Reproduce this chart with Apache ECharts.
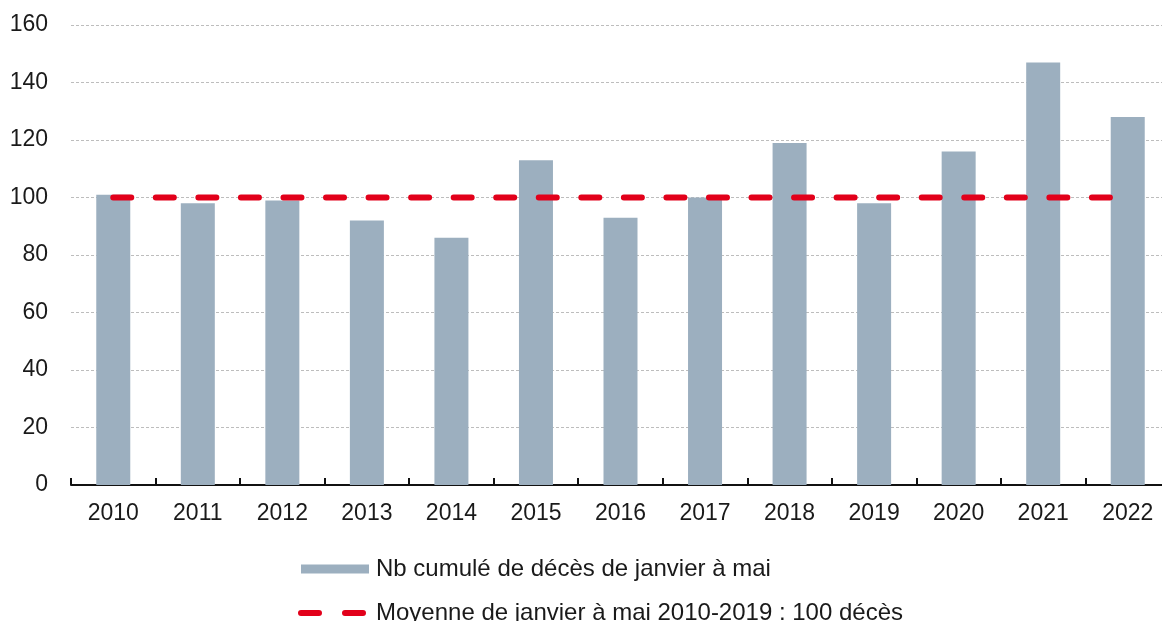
<!DOCTYPE html>
<html>
<head>
<meta charset="utf-8">
<style>
  html, body { margin: 0; padding: 0; background: #fff; }
  #chart { width: 1162px; height: 621px; }
</style>
<script src="https://cdn.jsdelivr.net/npm/echarts@6/dist/echarts.min.js"></script>
</head>
<body>
<div id="chart"></div>
<script>
const years = ["2010", "2011", "2012", "2013", "2014", "2015", "2016", "2017", "2018", "2019", "2020", "2021", "2022"];
const deaths = [101, 98, 99, 92, 86, 113, 93, 100, 119, 98, 116, 147, 128];
const average = [100, 100, 100, 100, 100, 100, 100, 100, 100, 100, 100, 100, 100];
const barName = "Nb cumulé de décès de janvier à mai";
const lineName = "Moyenne de janvier à mai 2010-2019 : 100 décès";

const font = "'Liberation Sans', Arial, Helvetica, sans-serif";
const textColor = "#1a1a1a";
// two rounded dashes for the legend of the average line
const dashIcon = "path://M3,0 H21 A3,3 0 0 1 21,6 H3 A3,3 0 0 1 3,0 Z M47,0 H65 A3,3 0 0 1 65,6 H47 A3,3 0 0 1 47,0 Z";

const chart = echarts.init(document.getElementById("chart"));
chart.setOption({
    animation: false,
    textStyle: { fontFamily: font },
    grid: { left: 71, top: 25, width: 1099, height: 460, outerBoundsMode: "none" },
    legend: [
        {
            data: [{ name: barName, icon: "rect" }],
            left: 296,
            top: 552,
            itemWidth: 68,
            itemHeight: 9,
            itemGap: 7,
            textStyle: { fontSize: 24, color: textColor, fontFamily: font, padding: [0, 0, 0, 2] },
        },
        {
            data: [{ name: lineName, icon: dashIcon }],
            left: 293,
            top: 596,
            itemWidth: 68,
            itemHeight: 6,
            itemGap: 10,
            textStyle: { fontSize: 24, color: textColor, fontFamily: font, padding: [0, 0, 0, 5] },
        },
    ],
    xAxis: {
        type: "category",
        data: years,
        axisLine: { lineStyle: { color: "#111", width: 2 } },
        axisTick: { show: true, inside: true, length: 7, lineStyle: { color: "#111", width: 2 } },
        axisLabel: { fontSize: 23, color: textColor, margin: 17, fontFamily: font },
    },
    yAxis: {
        type: "value",
        min: 0,
        max: 160,
        interval: 20,
        axisLine: { show: false },
        axisTick: { show: false },
        axisLabel: { fontSize: 23, color: textColor, margin: 23, fontFamily: font },
        splitLine: { lineStyle: { color: "#bdbdbd", width: 1, type: [3, 2] } },
    },
    series: [
        {
            name: barName,
            type: "bar",
            data: deaths,
            barWidth: 34,
            itemStyle: { color: "#9cafbf" },
        },
        {
            name: lineName,
            type: "line",
            data: average,
            symbol: "none",
            z: 3,
            lineStyle: { color: "#e2001a", width: 6, type: [18, 24.55], cap: "round" },
            itemStyle: { color: "#e2001a" },
        },
    ],
});
</script>
</body>
</html>
